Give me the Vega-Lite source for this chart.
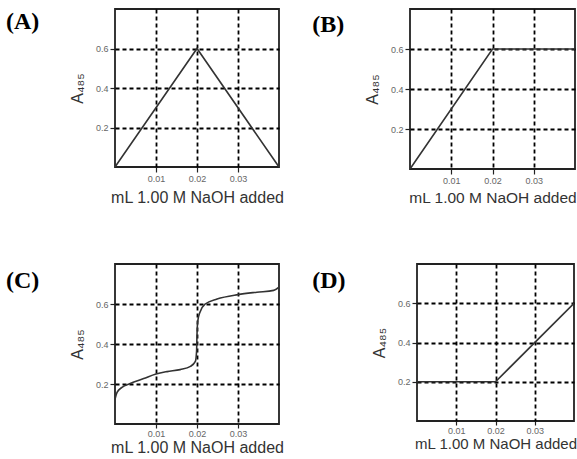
{
  "$schema": "https://vega.github.io/schema/vega-lite/v6.json",
  "padding": {"left": 5, "top": 8, "right": 0, "bottom": 0},
  "background": "white",
  "datasets": {
    "A": [{"ml": 0, "a485": 0}, {"ml": 0.02, "a485": 0.6}, {"ml": 0.04, "a485": 0}],
    "B": [{"ml": 0, "a485": 0}, {"ml": 0.02, "a485": 0.6}, {"ml": 0.04, "a485": 0.6}],
    "C": [
      {"ml": 0, "a485": 0.124}, {"ml": 0.0005, "a485": 0.158}, {"ml": 0.0017, "a485": 0.183},
      {"ml": 0.0037, "a485": 0.202}, {"ml": 0.007, "a485": 0.227}, {"ml": 0.01, "a485": 0.25},
      {"ml": 0.0127, "a485": 0.262}, {"ml": 0.0159, "a485": 0.272}, {"ml": 0.0184, "a485": 0.288},
      {"ml": 0.0196, "a485": 0.313}, {"ml": 0.0199, "a485": 0.364}, {"ml": 0.02, "a485": 0.448},
      {"ml": 0.0202, "a485": 0.516}, {"ml": 0.0207, "a485": 0.558}, {"ml": 0.022, "a485": 0.6},
      {"ml": 0.0249, "a485": 0.625}, {"ml": 0.03, "a485": 0.647}, {"ml": 0.0346, "a485": 0.659},
      {"ml": 0.0387, "a485": 0.668}, {"ml": 0.04, "a485": 0.684}
    ],
    "D": [{"ml": 0, "a485": 0.2}, {"ml": 0.02, "a485": 0.2}, {"ml": 0.04, "a485": 0.6}]
  },
  "config": {
    "view": {"stroke": "#222", "strokeWidth": 1.8},
    "axis": {
      "grid": true, "gridColor": "black", "gridDash": [4, 3], "gridWidth": 1.8, "gridOpacity": 1,
      "domain": false, "ticks": true, "tickColor": "#222", "tickSize": 5, "tickWidth": 1.2,
      "labelFont": "Liberation Sans", "labelFontSize": 9, "labelColor": "#666", "labelPadding": 2,
      "titleFont": "Liberation Sans", "titleFontSize": 16, "titleFontWeight": "normal", "titleColor": "#333"
    },
    "axisY": {"titlePadding": 10}
  },
  "spacing": 56,
  "vconcat": [
    {
      "spacing": 26,
      "hconcat": [
        {
          "width": 164, "height": 158,
          "layer": [
            {
              "data": {"name": "A"},
              "mark": {"type": "line", "color": "#333", "strokeWidth": 1.6, "clip": true},
              "encoding": {
                "x": {"field": "ml", "type": "quantitative", "scale": {"domain": [0, 0.04], "nice": false, "zero": false}, "axis": {"values": [0.01, 0.02, 0.03], "format": ".2f", "title": "mL 1.00 M NaOH added", "titlePadding": 6}},
                "y": {"field": "a485", "type": "quantitative", "scale": {"domain": [0, 0.8], "nice": false}, "axis": {"values": [0.2, 0.4, 0.6], "format": ".1f", "title": "A₄₈₅"}}
              }
            },
            {
              "data": {"values": [{}]},
              "mark": {"type": "text", "font": "Liberation Serif", "fontSize": 24, "fontWeight": "bold", "align": "left", "baseline": "middle", "color": "black"},
              "encoding": {"x": {"datum": -0.0266, "type": "quantitative"}, "y": {"datum": 0.734, "type": "quantitative"}, "text": {"value": "(A)"}}
            }
          ]
        },
        {
          "width": 165, "height": 160,
          "layer": [
            {
              "data": {"name": "B"},
              "mark": {"type": "line", "color": "#333", "strokeWidth": 1.6, "clip": true},
              "encoding": {
                "x": {"field": "ml", "type": "quantitative", "scale": {"domain": [0, 0.04], "nice": false, "zero": false}, "axis": {"values": [0.01, 0.02, 0.03], "format": ".2f", "title": "mL 1.00 M NaOH added", "titlePadding": 5, "titleFontSize": 15.5}},
                "y": {"field": "a485", "type": "quantitative", "scale": {"domain": [0, 0.8], "nice": false}, "axis": {"values": [0.2, 0.4, 0.6], "format": ".1f", "title": "A₄₈₅"}}
              }
            },
            {
              "data": {"values": [{}]},
              "mark": {"type": "text", "font": "Liberation Serif", "fontSize": 24, "fontWeight": "bold", "align": "left", "baseline": "middle", "color": "black"},
              "encoding": {"x": {"datum": -0.0237, "type": "quantitative"}, "y": {"datum": 0.719, "type": "quantitative"}, "text": {"value": "(B)"}}
            }
          ]
        }
      ]
    },
    {
      "spacing": 26,
      "hconcat": [
        {
          "width": 164, "height": 160,
          "layer": [
            {
              "data": {"name": "C"},
              "mark": {"type": "line", "color": "#333", "strokeWidth": 1.6, "clip": true, "interpolate": "monotone"},
              "encoding": {
                "x": {"field": "ml", "type": "quantitative", "scale": {"domain": [0, 0.04], "nice": false, "zero": false}, "axis": {"values": [0.01, 0.02, 0.03], "format": ".2f", "title": "mL 1.00 M NaOH added", "tickSize": 4, "labelPadding": 1, "titlePadding": 1}},
                "y": {"field": "a485", "type": "quantitative", "scale": {"domain": [0, 0.8], "nice": false}, "axis": {"values": [0.2, 0.4, 0.6], "format": ".1f", "title": "A₄₈₅"}}
              }
            },
            {
              "data": {"values": [{}]},
              "mark": {"type": "text", "font": "Liberation Serif", "fontSize": 24, "fontWeight": "bold", "align": "left", "baseline": "middle", "color": "black"},
              "encoding": {"x": {"datum": -0.0266, "type": "quantitative"}, "y": {"datum": 0.714, "type": "quantitative"}, "text": {"value": "(C)"}}
            }
          ]
        },
        {
          "width": 157, "height": 157,
          "layer": [
            {
              "data": {"name": "D"},
              "mark": {"type": "line", "color": "#333", "strokeWidth": 1.6, "clip": true},
              "encoding": {
                "x": {"field": "ml", "type": "quantitative", "scale": {"domain": [0, 0.04], "nice": false, "zero": false}, "axis": {"values": [0.01, 0.02, 0.03], "format": ".2f", "title": "mL 1.00 M NaOH added", "tickSize": 4, "labelPadding": 1, "titlePadding": 1, "titleFontSize": 15}},
                "y": {"field": "a485", "type": "quantitative", "scale": {"domain": [0, 0.8], "nice": false}, "axis": {"values": [0.2, 0.4, 0.6], "format": ".1f", "title": "A₄₈₅"}}
              }
            },
            {
              "data": {"values": [{}]},
              "mark": {"type": "text", "font": "Liberation Serif", "fontSize": 24, "fontWeight": "bold", "align": "left", "baseline": "middle", "color": "black"},
              "encoding": {"x": {"datum": -0.0267, "type": "quantitative"}, "y": {"datum": 0.713, "type": "quantitative"}, "text": {"value": "(D)"}}
            }
          ]
        }
      ]
    }
  ]
}
